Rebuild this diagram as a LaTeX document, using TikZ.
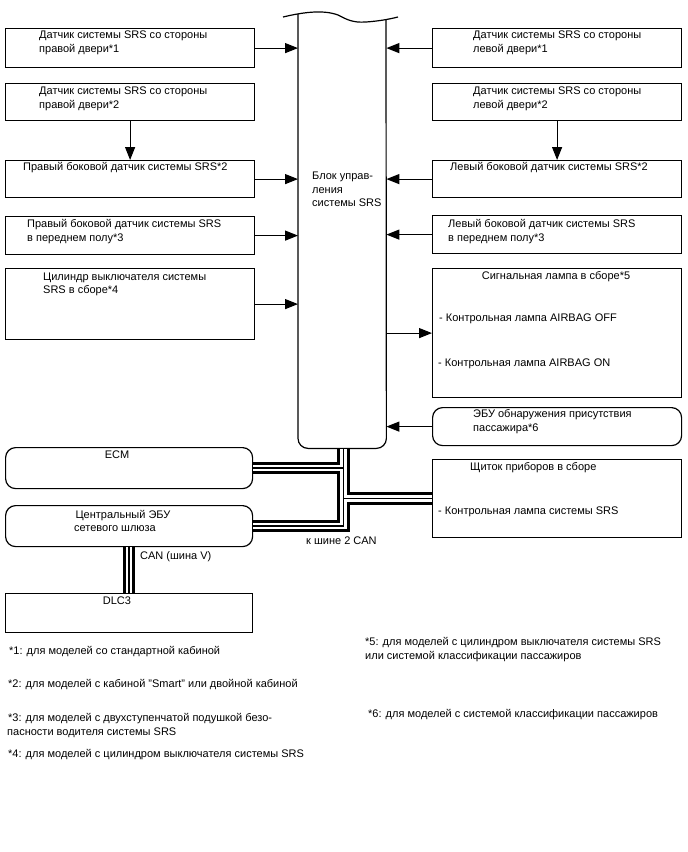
\documentclass[tikz,border=0pt]{standalone}
\usepackage{fontspec}
\setmainfont{Liberation Sans}
\usetikzlibrary{arrows.meta}
\begin{document}
\begin{tikzpicture}[x=1pt,y=-1pt,
  box/.style={draw, line width=1.2pt, minimum width=249pt, anchor=north west, inner sep=0pt},
  rbox/.style={box, rounded corners=10pt},
  txt/.style={font=\fontsize{11}{13}\selectfont, inner sep=0pt, anchor=base west},
  ctxt/.style={txt, anchor=base},
  note/.style={font=\fontsize{11}{13}\selectfont, inner sep=0pt, anchor=base west},
  arr/.style={line width=1.2pt, -{Triangle[length=13pt,width=10pt]}},
  ]
\fill[white] (0,0) rectangle (688,852);
\useasboundingbox (0,0) rectangle (688,852);

% central block
\node[minimum width=88pt, minimum height=434pt, anchor=north west, inner sep=0pt] (ecu) at (298,14) {};
\draw[line width=1.2pt] (283,17) .. controls (300,13) and (322,9) .. (338,15)
  .. controls (346,19) and (352,23) .. (366,22) .. controls (380,21) and (390,19) .. (398,17);
\draw[line width=1.2pt, rounded corners=10pt] (ecu.north west) -- (ecu.south west) -- (ecu.south east) -- (386,20);
\node[txt] (c1) at (312,179) {Блок управ-};
\node[txt] (c2) at (312,193) {ления};
\node[txt] (c3) at (312,206) {системы SRS};

% left boxes
\node[box, minimum height=39pt] (b1) at (5,28) {};
\node[box, minimum height=37pt] (b2) at (5,83) {};
\node[box, minimum height=37pt] (b3) at (5,160) {};
\node[box, minimum height=38pt] (b4) at (5,216) {};
\node[box, minimum height=71pt] (b5) at (5,268) {};
\node[txt] (b1a) at (39,38.5) {Датчик системы SRS со стороны};
\node[txt] (b1b) at (39,52.5) {правой двери*1};
\node[txt] (b2a) at (39,94.5) {Датчик системы SRS со стороны};
\node[txt] (b2b) at (39,108.5) {правой двери*2};
\node[txt] (b3a) at (23,170) {Правый боковой датчик системы SRS*2};
\node[txt] (b4a) at (27,227.5) {Правый боковой датчик системы SRS};
\node[txt] (b4b) at (27,241) {в переднем полу*3};
\node[txt] (b5a) at (43,280) {Цилиндр выключателя системы};
\node[txt] (b5b) at (43,293.5) {SRS в сборе*4};

% right boxes
\node[box, minimum height=39pt] (r1) at (432,28) {};
\node[box, minimum height=37pt] (r2) at (432,83) {};
\node[box, minimum height=37pt] (r3) at (432,160) {};
\node[box, minimum height=38pt] (r4) at (432,215) {};
\node[box, minimum height=129pt] (r5) at (432,268) {};
\node[rbox, minimum height=38pt] (r6) at (432,407) {};
\node[box, minimum height=78pt] (ic) at (432,459) {};
\node[txt] (r1a) at (473,38.5) {Датчик системы SRS со стороны};
\node[txt] (r1b) at (473,52.5) {левой двери*1};
\node[txt] (r2a) at (473,94.5) {Датчик системы SRS со стороны};
\node[txt] (r2b) at (473,108.5) {левой двери*2};
\node[txt] (r3a) at (450,170) {Левый боковой датчик системы SRS*2};
\node[txt] (r4a) at (448,227.5) {Левый боковой датчик системы SRS};
\node[txt] (r4b) at (448,241) {в переднем полу*3};
\node[ctxt] (r5a) at (556,279) {Сигнальная лампа в сборе*5};
\node[txt] (r5b) at (439,321) {- Контрольная лампа AIRBAG OFF};
\node[txt] (r5c) at (438,366) {- Контрольная лампа AIRBAG ON};
\node[txt] (r6a) at (473,417) {ЭБУ обнаружения присутствия};
\node[txt] (r6b) at (473,431) {пассажира*6};
\node[txt] (ica) at (470,470) {Щиток приборов в сборе};
\node[txt] (icb) at (438,514) {- Контрольная лампа системы SRS};

% bottom left boxes
\node[rbox, minimum width=247pt, minimum height=41pt] (ecm) at (5,447) {};
\node[rbox, minimum width=247pt, minimum height=41pt] (gw) at (5,505) {};
\node[box, minimum width=247pt, minimum height=39pt] (dlc) at (5,593) {};
\node[ctxt] (ecma) at (117,458) {ECM};
\node[ctxt] (gwa) at (123,518) {Центральный ЭБУ};
\node[ctxt] (gwb) at (115,531) {сетевого шлюза};
\node[ctxt] (dlca) at (117,604) {DLC3};
\node[txt] (can) at (140,559) {CAN (шина V)};
\node[txt] (can2) at (306,544) {к шине 2 CAN};

% arrows
\draw[arr] (b1.east) -- (b1.east -| ecu.west);
\draw[arr] (b2.south) -- (b3.north);
\draw[arr] (b3.east) -- (b3.east -| ecu.west);
\draw[arr] (b4.east) -- (b4.east -| ecu.west);
\draw[arr] (b5.east) -- (b5.east -| ecu.west);
\draw[arr] (r1.west) -- (r1.west -| ecu.east);
\draw[arr] (r2.south) -- (r3.north);
\draw[arr] (r3.west) -- (r3.west -| ecu.east);
\draw[arr] (r4.west) -- (r4.west -| ecu.east);
\draw[arr] (r5.west -| ecu.east) -- (r5.west);
\draw[arr] (r6.west) -- (r6.west -| ecu.east);

% CAN cables
\coordinate (jt) at (343.5,449);
\foreach \w/\c in {12.5/black, 6.5/white, 1.4/black} {
  \draw[line width=\w pt, \c, line join=miter] (jt) -- (jt |- gw.east) -- (gw.east);
  \draw[line width=\w pt, \c] (ecm.east) -- (ecm.east -| jt);
  \draw[line width=\w pt, \c] (ic.west) -- (ic.west -| jt);
  \draw[line width=\w pt, \c] (gw.south) -- (dlc.north);
}

% footnotes
\node[note] (n1) at (9,654) {*1: для моделей со стандартной кабиной};
\node[note] (n2) at (8,687) {*2: для моделей с кабиной "Smart" или двойной кабиной};
\node[note] (n3a) at (8,721) {*3: для моделей с двухступенчатой подушкой безо-};
\node[note] (n3b) at (7,735) {пасности водителя системы SRS};
\node[note] (n4) at (8,757) {*4: для моделей с цилиндром выключателя системы SRS};
\node[note] (n5a) at (365,645) {*5: для моделей с цилиндром выключателя системы SRS};
\node[note] (n5b) at (365,659) {или системой классификации пассажиров};
\node[note] (n6) at (368,717) {*6: для моделей с системой классификации пассажиров};
\end{tikzpicture}
\end{document}
